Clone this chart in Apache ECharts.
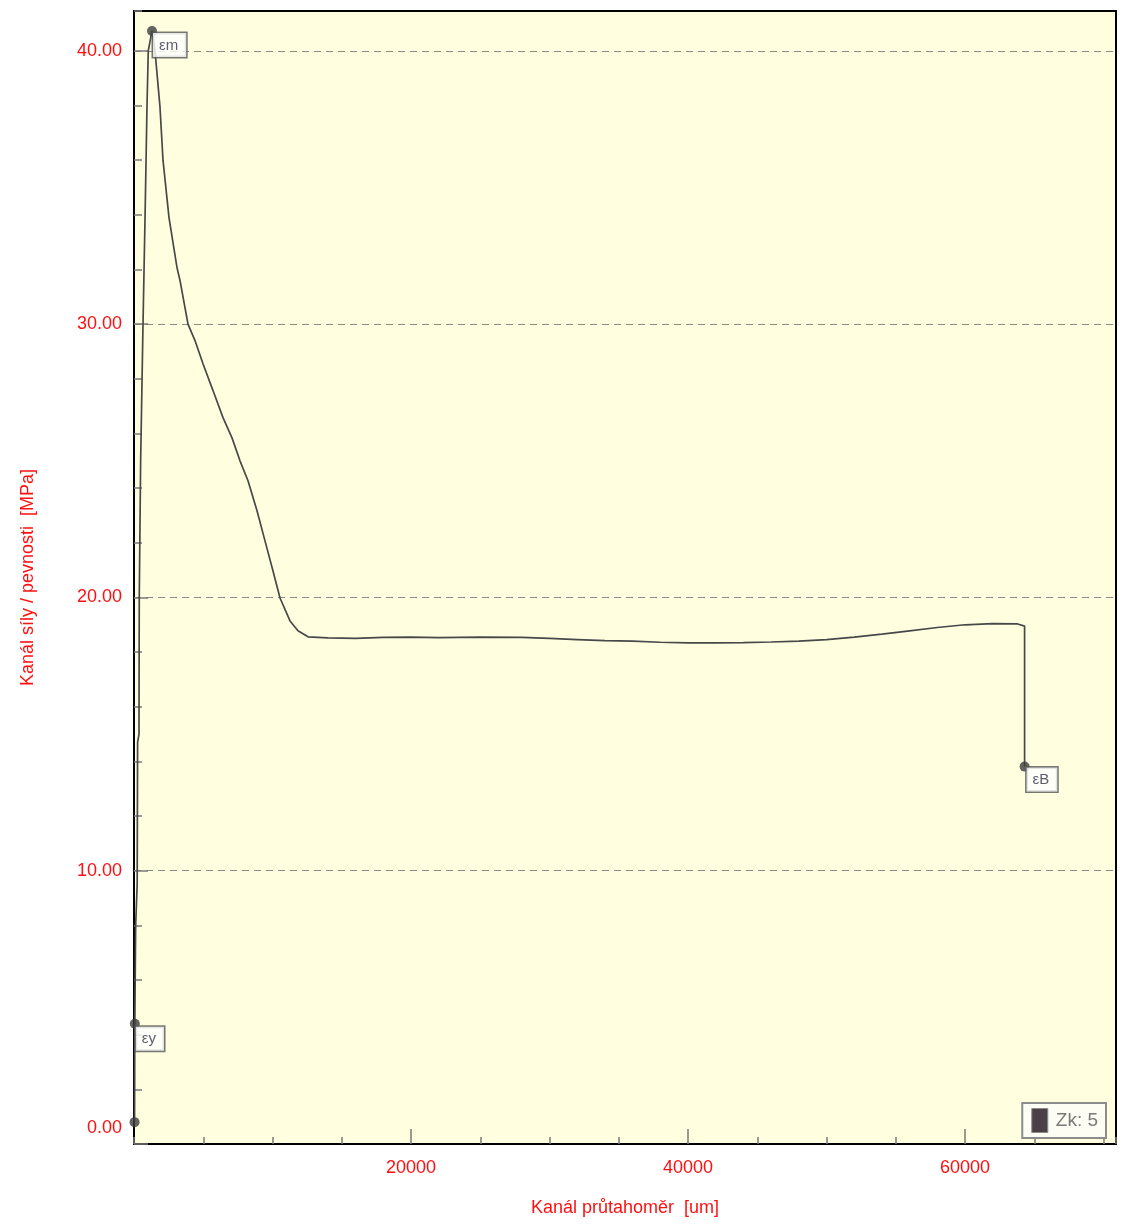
<!DOCTYPE html>
<html>
<head>
<meta charset="utf-8">
<title>Zk: 5</title>
<script src="https://cdn.jsdelivr.net/npm/echarts@6/dist/echarts.min.js"></script>
<style>
  html, body { margin: 0; padding: 0; background: #fff; }
  #chart { width: 1131px; height: 1225px; }
</style>
</head>
<body>
<div id="chart"></div>
<script>
// prodlouzeni [um] a napeti [MPa]
const extension = [
  40, 60, 120, 230, 260, 360, 380, 480, 650, 800, 940, 1030, 1300,
  1516, 1877, 2094, 2527, 3105, 3321, 3899, 4404, 4982, 5704, 6426, 7076,
  7653, 8231, 8881, 9458, 10036, 10542, 11264, 11841, 12563,
  14000, 16000, 18000, 20000, 22000, 25000, 28000, 30000, 32000, 34000,
  36000, 38000, 40000, 42000, 44000, 46000, 48000, 50000, 52000, 54000,
  56000, 58000, 60000, 62000, 63800, 64300, 64300
];
const stress = [
  0.8, 4.4, 8.0, 9.5, 14.7, 15.0, 20.0, 25.0, 30.0, 34.0, 38.0, 40.0, 40.73,
  40.0, 37.94, 36.0, 33.9, 32.07, 31.6, 30.0, 29.4, 28.55, 27.57, 26.58, 25.84,
  25.0, 24.27, 23.17, 22.07, 20.97, 19.98, 19.14, 18.78, 18.56,
  18.52, 18.50, 18.54, 18.55, 18.53, 18.55, 18.54, 18.50, 18.46, 18.42,
  18.40, 18.36, 18.34, 18.34, 18.35, 18.37, 18.40, 18.46, 18.55, 18.66,
  18.78, 18.90, 19.00, 19.04, 19.03, 18.95, 13.81
];

// body na krivce: start, mez kluzu, maximum, pretrzeni
const pointNames = ['', 'εy', 'εm', 'εB'];
const pointX = [40, 60, 1300, 64300];
const pointY = [0.8, 4.4, 40.73, 13.81];
const pointLabelOffset = [[0, 0], [6, 8], [6, 7], [7, 6]];

const seriesName = 'Zk: 5';
const xTitle = 'Kanál průtahoměr  [um]';
const yTitle = 'Kanál síly / pevnosti  [MPa]';

const xMin = 0, xMax = 70900;
const yMin = 0, yMax = 41.46;

const FONT = "'Liberation Sans', Arial, sans-serif";
const RED = '#ff1010';
const TICK = '#7a7a7a';

const curve = extension.map((x, i) => [x, stress[i]]);
const points = pointX.map((x, i) => ({
  value: [x, pointY[i]],
  label: {
    show: pointNames[i] !== '',
    formatter: pointNames[i],
    position: pointLabelOffset[i]
  }
}));

const chart = echarts.init(document.getElementById('chart'));

const option = {
  animation: false,
  backgroundColor: '#ffffff',
  grid: {
    left: 134,
    right: 15,
    top: 11,
    bottom: 81,
    show: true,
    backgroundColor: '#ffffe0',
    borderColor: '#000000',
    borderWidth: 2
  },
  legend: {
    data: [{ name: seriesName, icon: 'rect' }],
    right: 25,
    bottom: 87,
    orient: 'horizontal',
    backgroundColor: '#fdfdf4',
    borderColor: '#8c8c8c',
    borderWidth: 2,
    borderRadius: 0,
    padding: [5, 8, 5, 9],
    itemWidth: 16,
    itemHeight: 24,
    itemGap: 6,
    itemStyle: { color: '#4a4048', borderColor: '#8c8c8c', borderWidth: 1 },
    textStyle: { color: '#7a7a7a', fontSize: 19, fontFamily: FONT, padding: [0, 0, 0, 3] }
  },
  xAxis: [
    {
      type: 'value',
      min: xMin,
      max: xMax,
      interval: 20000,
      position: 'bottom',
      name: xTitle,
      nameLocation: 'middle',
      nameGap: 55,
      nameTextStyle: { color: RED, fontSize: 18, fontFamily: FONT },
      axisLine: { show: false },
      axisTick: { show: true, inside: true, length: 15, lineStyle: { color: TICK, width: 1.5 } },
      axisLabel: {
        color: RED, fontSize: 18, fontFamily: FONT, margin: 15,
        showMinLabel: false, showMaxLabel: false,
        formatter: (v) => String(v)
      },
      splitLine: { show: false }
    },
    {
      type: 'value',
      min: xMin,
      max: xMax,
      interval: 5000,
      position: 'bottom',
      axisLine: { show: false },
      axisTick: { show: true, inside: true, length: 7, lineStyle: { color: TICK, width: 1.5 } },
      axisLabel: { show: false },
      splitLine: { show: false }
    }
  ],
  yAxis: [
    {
      type: 'value',
      min: yMin,
      max: yMax,
      interval: 10,
      position: 'left',
      name: yTitle,
      nameLocation: 'middle',
      nameGap: 97,
      nameTextStyle: { color: RED, fontSize: 18, fontFamily: FONT },
      axisLine: { show: false },
      axisTick: { show: true, inside: true, length: 14, lineStyle: { color: TICK, width: 1.5 } },
      axisLabel: {
        color: RED, fontSize: 18, fontFamily: FONT, margin: 12,
        showMaxLabel: false,
        formatter: (v) => v === 0 ? '{z|0.00}' : v.toFixed(2),
        rich: { z: { color: RED, fontSize: 18, fontFamily: FONT, padding: [0, 0, 32, 0] } }
      },
      splitLine: {
        show: true,
        showMinLine: false,
        showMaxLine: false,
        lineStyle: { color: '#8a8a8a', width: 1.2, type: [7, 5] }
      }
    },
    {
      type: 'value',
      min: yMin,
      max: yMax,
      interval: 2,
      position: 'left',
      offset: 0,
      axisLine: { show: false },
      axisTick: { show: true, inside: true, length: 8, lineStyle: { color: TICK, width: 1.5 } },
      axisLabel: { show: false },
      splitLine: { show: false }
    }
  ],
  series: [
    {
      name: seriesName,
      type: 'line',
      xAxisIndex: 0,
      yAxisIndex: 0,
      data: curve,
      showSymbol: false,
      symbol: 'none',
      color: '#4a4048',
      lineStyle: { color: '#48484a', width: 1.7 },
      z: 3
    },
    {
      type: 'scatter',
      xAxisIndex: 0,
      yAxisIndex: 0,
      data: points,
      symbol: 'circle',
      symbolSize: 10,
      itemStyle: { color: '#3c3c3c' },
      label: {
        show: true,
        color: '#33334a',
        fontSize: 15,
        fontFamily: FONT,
        backgroundColor: '#ffffff',
        borderColor: '#555555',
        borderWidth: 1.5,
        padding: [5, 8, 4, 6],
        align: 'left',
        verticalAlign: 'top'
      },
      z: 4
    }
  ]
};

chart.setOption(option);
window.addEventListener('resize', () => chart.resize());
</script>
</body>
</html>
